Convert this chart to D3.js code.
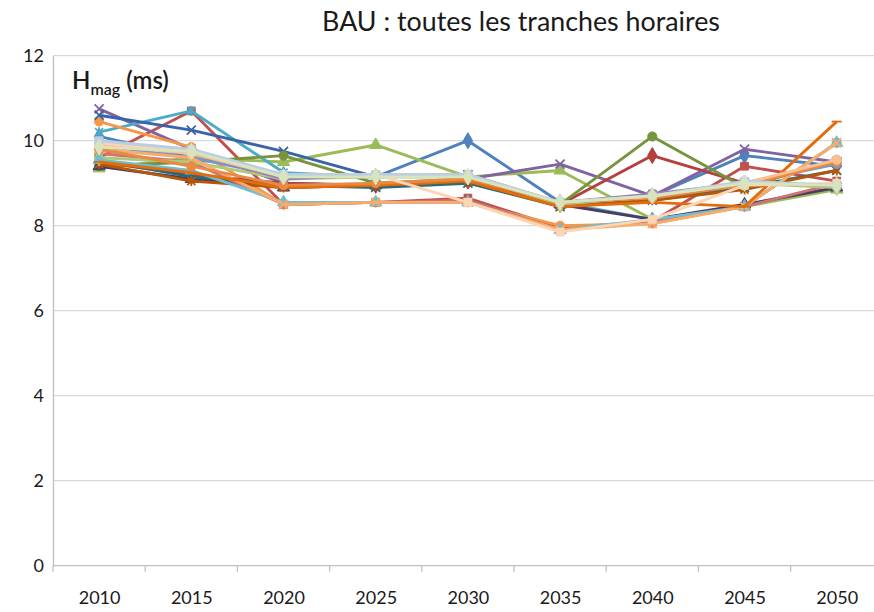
<!DOCTYPE html>
<html><head><meta charset="utf-8">
<script src="https://cdn.jsdelivr.net/npm/d3@7"></script>
<style>body{margin:0;background:#fff}svg{display:block}text{font-family:Lato,"Open Sans",sans-serif;fill:#1a1a1a}</style>
</head><body><svg id="c" width="874" height="612"></svg>
<script>
const years = [2010, 2015, 2020, 2025, 2030, 2035, 2040, 2045, 2050];
const yTicks = [0, 2, 4, 6, 8, 10, 12];
const title = "BAU : toutes les tranches horaires";

// one array per time slot (tranche horaire)
const tranche01 = [10.1, 9.6, 9.2, 9.15, 10.0, 8.55, 8.7, 9.65, 9.4];
const tranche02 = [9.6, 10.7, 8.5, 8.55, 8.65, 7.95, 8.1, 9.4, 9.05];
const tranche03 = [9.35, 9.6, 9.5, 9.9, 9.15, 9.3, 8.15, 8.45, 8.85];
const tranche04 = [10.75, 9.8, 9.0, 8.95, 9.1, 9.45, 8.7, 9.8, 9.5];
const tranche05 = [10.2, 10.7, 9.25, 9.15, 9.2, 8.55, 8.15, 8.45, 9.95];
const tranche06 = [10.45, 9.85, 8.5, 8.55, 8.55, 8.0, 8.05, 8.45, 9.95];
const tranche07 = [10.6, 10.25, 9.75, 9.15, 9.2, 8.5, 8.7, 9.0, 9.5];
const tranche08 = [9.5, 9.2, 9.0, 8.95, 9.05, 8.5, 9.65, 9.0, 8.95];
const tranche09 = [9.4, 9.5, 9.65, 9.0, 9.1, 8.5, 10.1, 8.9, 9.55];
const tranche10 = [9.4, 9.1, 8.9, 8.95, 9.05, 8.5, 8.15, 8.5, 8.9];
const tranche11 = [9.55, 9.15, 8.95, 8.9, 9.0, 8.45, 8.6, 8.9, 9.3];
const tranche12 = [9.45, 9.05, 8.9, 8.95, 9.05, 8.45, 8.6, 8.85, 9.3];
const tranche13 = [9.9, 9.6, 9.15, 9.15, 9.15, 8.55, 8.7, 9.0, 9.45];
const tranche14 = [9.7, 9.5, 8.5, 8.55, 8.6, 7.9, 8.1, 8.45, 9.0];
const tranche15 = [9.6, 9.5, 9.1, 9.15, 9.15, 8.5, 8.7, 9.0, 8.9];
const tranche16 = [10.0, 9.7, 9.1, 9.2, 9.15, 8.55, 8.75, 9.0, 8.95];
const tranche17 = [9.55, 9.3, 8.55, 8.55, 8.55, 7.9, 8.15, 8.45, 9.95];
const tranche18 = [9.8, 9.6, 8.5, 8.55, 8.55, 7.9, 8.05, 8.45, 9.95];
const tranche19 = [9.5, 9.25, 8.9, 8.95, 9.05, 8.45, 8.55, 8.45, 10.45];
const tranche20 = [9.8, 9.4, 8.95, 9.0, 9.1, 8.55, 8.65, 8.95, 9.5];
const tranche21 = [9.9, 9.7, 9.15, 9.2, 9.2, 8.55, 8.7, 9.0, 9.55];
const tranche22 = [9.95, 9.75, 9.2, 9.2, 8.55, 7.85, 8.15, 8.95, 9.0];
const tranche23 = [10.0, 9.8, 9.2, 9.2, 9.2, 8.55, 8.7, 9.05, 8.95];
const tranche24 = [9.85, 9.75, 9.15, 9.15, 9.15, 8.55, 8.7, 9.0, 8.95];

const series = [tranche01, tranche02, tranche03, tranche04, tranche05, tranche06,
  tranche07, tranche08, tranche09, tranche10, tranche11, tranche12,
  tranche13, tranche14, tranche15, tranche16, tranche17, tranche18,
  tranche19, tranche20, tranche21, tranche22, tranche23, tranche24];

// styles
const palette = ["#4F81BD","#C0504D","#9BBB59","#8064A2","#4BACC6","#F79646",
  "#3A64A8","#B3403D","#77933C","#4D3B62","#276A7C","#B65708",
  "#729ACA","#CD7371","#AFC97A","#9983B5","#6FBDD1","#F9AB6B",
  "#E46C0A","#E68A45","#FAC090","#FCD5B5","#B9CDE5","#D7E4BD"];
const markers = ["diamond","square","triangle","x","star","circle",
  "x","diamond","circle","triangle","x","star",
  "circle","plus","diamond","square","triangle","x",
  "dash","circle","circle","square","square","diamond"];

const svg = d3.select("#c");
const W = 874;
const pLeft = 53, pRight = 882.8, pTop = 55.7, pBottom = 565.7;

const x = d3.scalePoint().domain(years).range([pLeft, pRight]).padding(0.5);
const y = d3.scaleLinear().domain([0, 12]).range([pBottom, pTop]);
const step = x.step();

// gridlines
svg.append("g").selectAll("line").data(yTicks.filter(d => d > 0)).join("line")
  .attr("x1", pLeft).attr("x2", W).attr("y1", d => y(d)).attr("y2", d => y(d))
  .attr("stroke", "#D9D9D9").attr("stroke-width", 1.3);

// y axis
const yAxis = svg.append("g").attr("transform", `translate(${pLeft},0)`)
  .call(d3.axisLeft(y).tickValues(yTicks).tickSize(0).tickPadding(9));
yAxis.select(".domain").attr("stroke", "#BFBFBF").attr("stroke-width", 1.3);
yAxis.selectAll("text").style("font-size", "18px").attr("fill", "#1a1a1a");

// x axis
const xAxis = svg.append("g").attr("transform", `translate(0,${pBottom})`)
  .call(d3.axisBottom(x).tickSize(0).tickPadding(26).tickFormat(d3.format("d")));
xAxis.select(".domain").remove();
xAxis.selectAll("text").style("font-size", "18px").attr("fill", "#1a1a1a");
svg.append("line").attr("x1", pLeft).attr("x2", W).attr("y1", pBottom).attr("y2", pBottom)
  .attr("stroke", "#BFBFBF").attr("stroke-width", 1.3);
svg.append("g").selectAll("line").data(d3.range(years.length + 1)).join("line")
  .attr("x1", i => x(years[0]) - step / 2 + i * step)
  .attr("x2", i => x(years[0]) - step / 2 + i * step)
  .attr("y1", pBottom).attr("y2", pBottom + 6)
  .attr("stroke", "#BFBFBF").attr("stroke-width", 1.3);

// lines and markers
const line = d3.line().x((d, i) => x(years[i])).y(d => y(d));
const sym = {
  diamond: d3.symbol().type(d3.symbolDiamond).size(75)(),
  square: d3.symbol().type(d3.symbolSquare).size(60)(),
  triangle: d3.symbol().type(d3.symbolTriangle).size(65)(),
  circle: d3.symbol().type(d3.symbolCircle).size(65)()
};
series.forEach((vals, si) => {
  const c = palette[si];
  const g = svg.append("g");
  g.append("path").datum(vals).attr("d", line).attr("fill", "none")
    .attr("stroke", c).attr("stroke-width", 2.9).attr("stroke-linejoin", "round");
  const m = markers[si];
  const pts = g.selectAll("g.m").data(vals).join("g")
    .attr("transform", (d, i) => `translate(${x(years[i])},${y(d)})`);
  if (sym[m]) {
    pts.append("path").attr("d", sym[m]).attr("fill", c).attr("stroke", c).attr("stroke-width", 1);
  } else {
    let d;
    if (m === "x") d = "M-4.5,-4.5L4.5,4.5M-4.5,4.5L4.5,-4.5";
    else if (m === "star") d = "M-4,-4L4,4M-4,4L4,-4M0,-5L0,5";
    else if (m === "plus") d = "M-5,0L5,0M0,-5L0,5";
    else d = "M-5,0L5,0";
    pts.append("path").attr("d", d).attr("fill", "none").attr("stroke", c).attr("stroke-width", 1.8);
  }
});

// title
const t = svg.append("text").attr("x", 521).attr("y", 31).attr("text-anchor", "middle")
  .style("font-size", "24px").text(title);
const tw = t.node().getComputedTextLength();
t.style("font-size", (24 * 398 / tw) + "px");

// axis title H_mag (ms)
const at = svg.append("text").attr("x", 72).attr("y", 89).style("font-size", "24px").style("font-weight", "600").attr("fill", "#111");
at.append("tspan").text("H");
at.append("tspan").attr("dy", 6).style("font-size", "16px").text("mag");
at.append("tspan").attr("dy", -6).text(" (ms)");
</script></body></html>
